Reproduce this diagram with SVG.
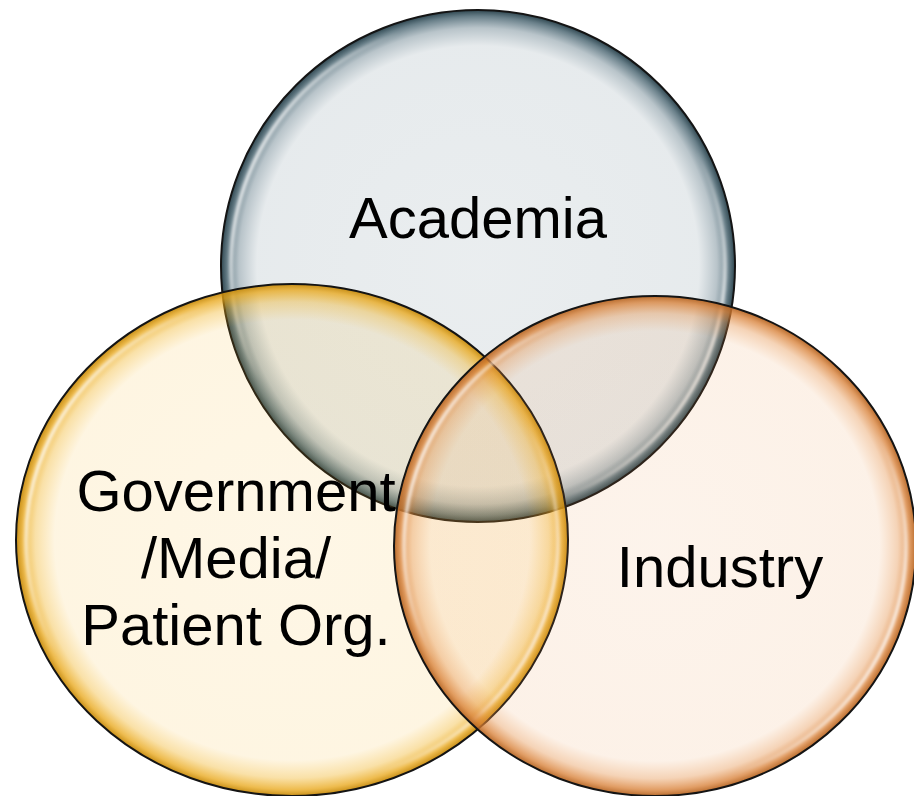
<svg xmlns="http://www.w3.org/2000/svg" width="914" height="796" viewBox="0 0 914 796">
  <style>
    .outline { stroke: #141414; stroke-width: 2; }
    .hl { fill: none; stroke: url(#hlGrad); stroke-width: 3.5; filter: url(#soft); }
    .label { font-family: "Liberation Sans", Arial, sans-serif; font-size: 58px; fill: #000000; text-anchor: middle; }
  </style>
  <defs>
    <filter id="soft" x="-5%" y="-5%" width="110%" height="110%">
      <feGaussianBlur stdDeviation="1.4"/>
    </filter>
    <linearGradient id="hlGrad" x1="0" y1="0.3" x2="1" y2="0.7">
      <stop offset="0" stop-color="#ffffff" stop-opacity="0.95"/>
      <stop offset="0.2" stop-color="#ffffff" stop-opacity="0"/>
      <stop offset="0.8" stop-color="#ffffff" stop-opacity="0"/>
      <stop offset="1" stop-color="#ffffff" stop-opacity="0.95"/>
    </linearGradient>
    <radialGradient id="gAcad" cx="0.5" cy="0.5" r="0.5">
      <stop offset="0" stop-color="rgb(80,110,125)" stop-opacity="0.12"/>
      <stop offset="0.86" stop-color="rgb(80,110,125)" stop-opacity="0.14"/>
      <stop offset="0.93" stop-color="rgb(70,100,115)" stop-opacity="0.38"/>
      <stop offset="0.975" stop-color="rgb(55,85,98)" stop-opacity="0.75"/>
      <stop offset="1" stop-color="rgb(35,60,70)" stop-opacity="0.95"/>
    </radialGradient>
    <radialGradient id="gGov" cx="0.5" cy="0.5" r="0.5">
      <stop offset="0" stop-color="rgb(247,180,30)" stop-opacity="0.11"/>
      <stop offset="0.86" stop-color="rgb(247,180,30)" stop-opacity="0.13"/>
      <stop offset="0.93" stop-color="rgb(240,175,25)" stop-opacity="0.38"/>
      <stop offset="0.975" stop-color="rgb(232,165,20)" stop-opacity="0.75"/>
      <stop offset="1" stop-color="rgb(195,135,10)" stop-opacity="0.95"/>
    </radialGradient>
    <radialGradient id="gInd" cx="0.5" cy="0.5" r="0.5">
      <stop offset="0" stop-color="rgb(235,150,75)" stop-opacity="0.11"/>
      <stop offset="0.86" stop-color="rgb(235,150,75)" stop-opacity="0.13"/>
      <stop offset="0.93" stop-color="rgb(228,140,65)" stop-opacity="0.38"/>
      <stop offset="0.975" stop-color="rgb(215,125,50)" stop-opacity="0.75"/>
      <stop offset="1" stop-color="rgb(180,100,35)" stop-opacity="0.95"/>
    </radialGradient>
  </defs>

  <g id="academia">
    <ellipse cx="478" cy="266" rx="257" ry="256" fill="url(#gAcad)" class="outline"/>
    <ellipse cx="478" cy="266" rx="247" ry="246" class="hl"/>
    <text class="label" x="478" y="238">Academia</text>
  </g>

  <g id="government">
    <ellipse cx="292" cy="540" rx="276" ry="256" fill="url(#gGov)" class="outline"/>
    <ellipse cx="292" cy="540" rx="266" ry="246" class="hl"/>
    <text class="label" x="236" y="511">Government</text>
    <text class="label" x="236" y="578">/Media/</text>
    <text class="label" x="236" y="645">Patient Org.</text>
  </g>

  <g id="industry">
    <ellipse cx="655" cy="546" rx="261" ry="250" fill="url(#gInd)" class="outline"/>
    <ellipse cx="655" cy="546" rx="251" ry="240" class="hl"/>
    <text class="label" x="720" y="587">Industry</text>
  </g>
</svg>
